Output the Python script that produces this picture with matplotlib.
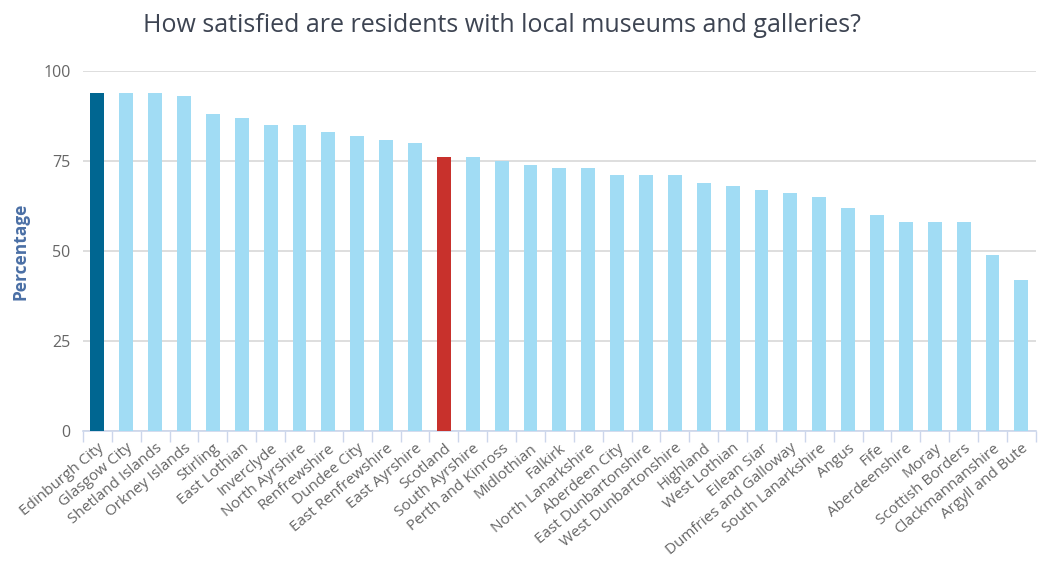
import matplotlib.pyplot as plt
import numpy as np

areas = ["Edinburgh City", "Glasgow City", "Shetland Islands", "Orkney Islands", "Stirling",
         "East Lothian", "Inverclyde", "North Ayrshire", "Renfrewshire", "Dundee City",
         "East Renfrewshire", "East Ayrshire", "Scotland", "South Ayrshire", "Perth and Kinross",
         "Midlothian", "Falkirk", "North Lanarkshire", "Aberdeen City", "East Dunbartonshire",
         "West Dunbartonshire", "Highland", "West Lothian", "Eilean Siar", "Dumfries and Galloway",
         "South Lanarkshire", "Angus", "Fife", "Aberdeenshire", "Moray", "Scottish Borders",
         "Clackmannanshire", "Argyll and Bute"]
satisfied = [94, 94, 94, 93, 88, 87, 85, 85, 83, 82, 81, 80, 76, 76, 75,
             74, 73, 73, 71, 71, 71, 69, 68, 67, 66, 65, 62, 60, 58, 58, 58, 49, 42]
yticks = [0, 25, 50, 75, 100]

plt.rcParams['font.family'] = ['Open Sans', 'DejaVu Sans']

# colour: highlight area dark, Scotland red, rest light blue
colors = []
for name in areas:
    if name == "Edinburgh City":
        colors.append("#006691")
    elif name == "Scotland":
        colors.append("#c8312c")
    else:
        colors.append("#a1dcf4")

fig = plt.figure(figsize=(10.41, 5.69), dpi=100)
ax = fig.add_axes([0.0797, 0.2425, 0.9153, 0.6325])

x = np.arange(len(areas))
ax.bar(x, satisfied, width=0.48, color=colors, zorder=3)

ax.set_xlim(-0.5, len(areas) - 0.5)
ax.set_ylim(0, 100)
ax.set_yticks(yticks)
ax.set_yticklabels([str(v) for v in yticks], fontsize=11.5, color="#666666")
ax.yaxis.grid(True, color="#d8d8d8", linewidth=1.2, zorder=0)
ax.tick_params(axis="y", length=0, pad=9)

# category labels with ticks at category boundaries
ax.set_xticks(x)
ax.set_xticklabels(areas, rotation=40, ha="right", rotation_mode="anchor",
                   fontsize=11, color="#666666")
ax.tick_params(axis="x", length=0, pad=7)
ax.set_xticks(np.arange(len(areas) + 1) - 0.5, minor=True)
ax.tick_params(axis="x", which="minor", length=8, color="#ccd6eb", width=1)

for s in ["top", "right", "left"]:
    ax.spines[s].set_visible(False)
ax.spines["bottom"].set_color("#ccd6eb")
ax.spines["bottom"].set_linewidth(1.2)

ax.set_ylabel("Percentage", fontsize=12.5, fontweight="bold", color="#4a6fa5", labelpad=10)

fig.text(0.482, 0.955, "How satisfied are residents with local museums and galleries?",
         ha="center", va="center", fontsize=18, color="#3d4452")

fig.savefig("out.png", dpi=100, facecolor="white")
